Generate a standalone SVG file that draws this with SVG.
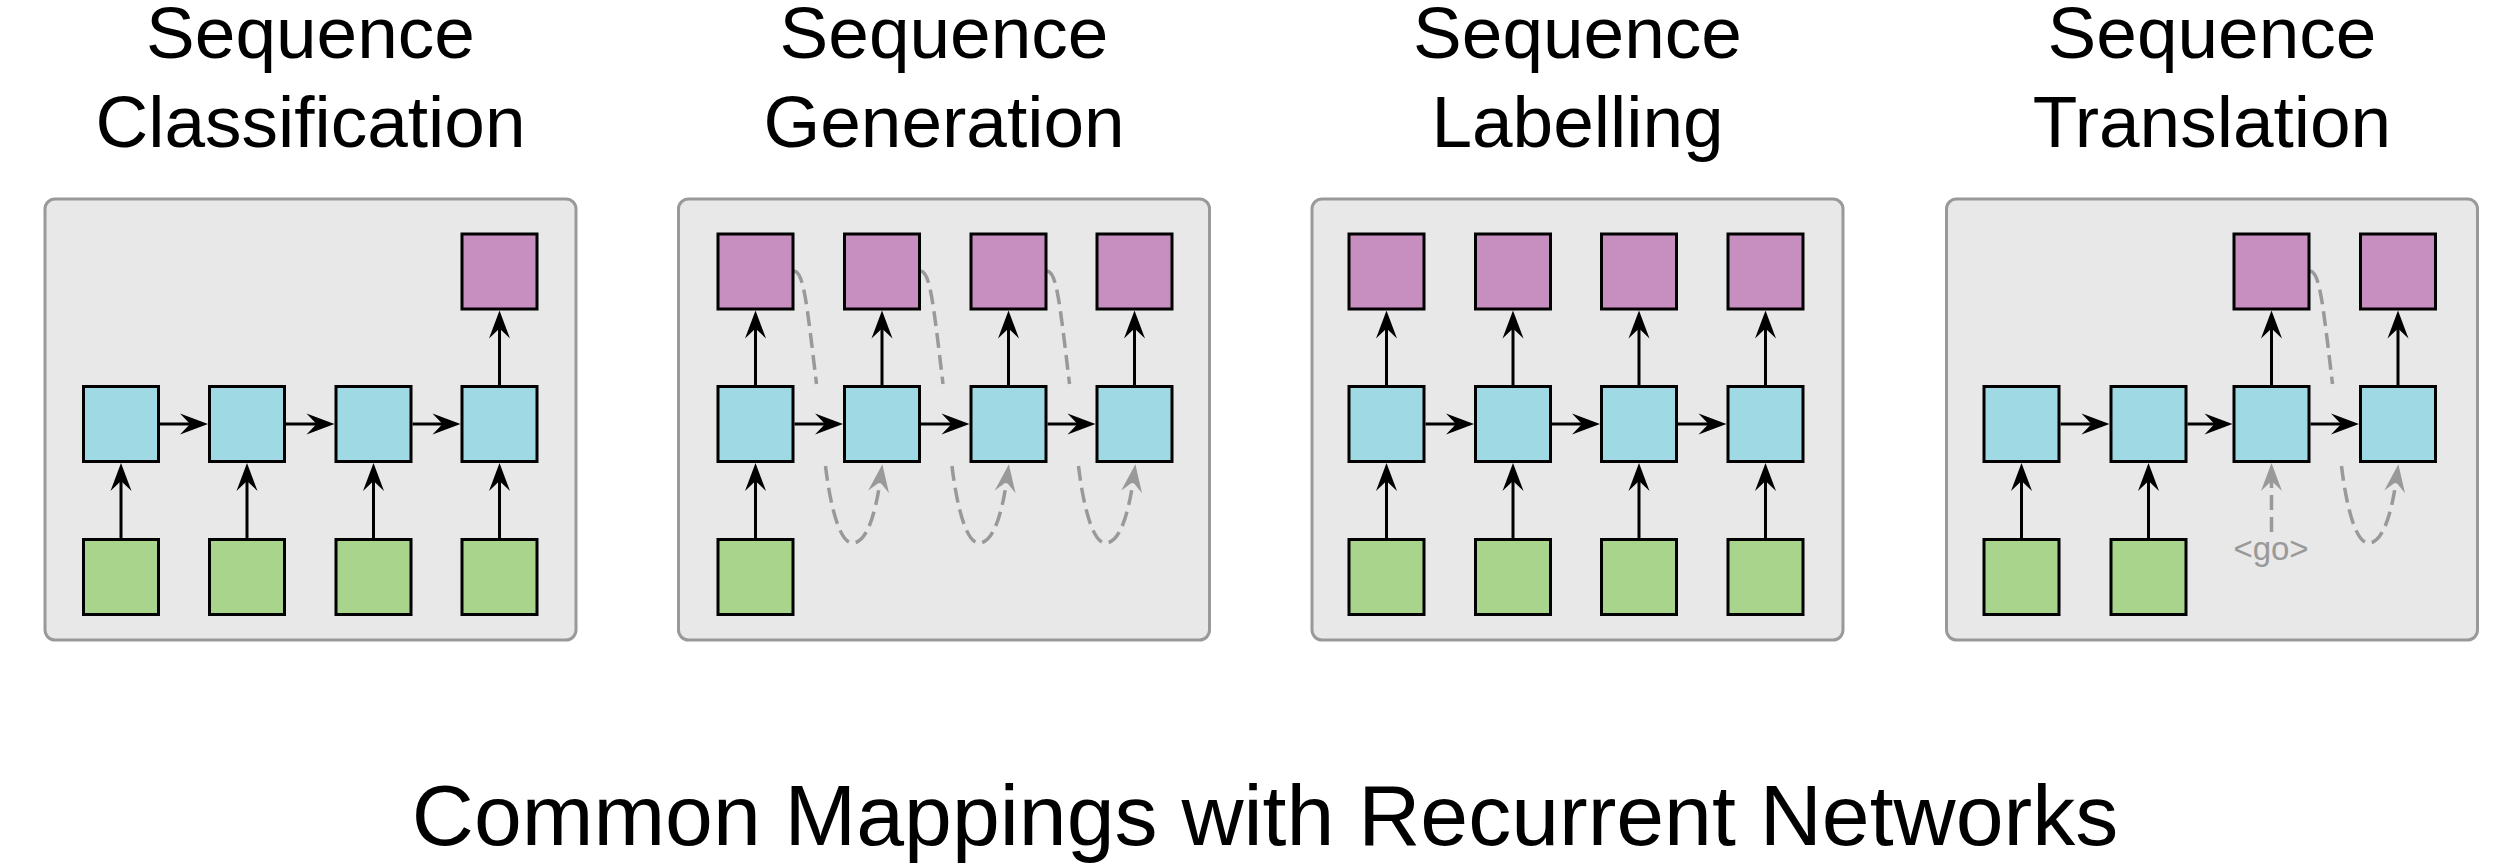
<svg xmlns="http://www.w3.org/2000/svg" width="2502" height="864" viewBox="0 0 2502 864">
<style>
.bg{fill:#ffffff}
.panel{fill:#e8e8e8;stroke:#999999;stroke-width:3}
.box{stroke:#000;stroke-width:3}
.in{fill:#a8d48b}
.hid{fill:#9fd9e3}
.out{fill:#c68fbf}
.title{font-family:"Liberation Sans",Arial,Helvetica,sans-serif;font-size:73px;fill:#000;text-anchor:middle}
.main{font-family:"Liberation Sans",Arial,Helvetica,sans-serif;font-size:86px;fill:#000;text-anchor:middle}
.go{font-family:"Liberation Sans",Arial,Helvetica,sans-serif;font-size:33px;fill:#999999;text-anchor:middle}
.conn{stroke:#000;stroke-width:3;fill:none;marker-end:url(#ah)}
.dash{stroke:#999999;stroke-width:3.5;fill:none;stroke-dasharray:15 7}
.darr{marker-end:url(#gh)}
</style>
<defs>
<marker id="ah" viewBox="-30 -12 32 24" refX="-14" refY="0" markerWidth="32" markerHeight="24" markerUnits="userSpaceOnUse" orient="auto">
<path d="M0,0 L-28,-10.5 L-18,0 L-28,10.5 Z" fill="#000"/>
</marker>
<marker id="gh" viewBox="-30 -12 32 24" refX="-14" refY="0" markerWidth="32" markerHeight="24" markerUnits="userSpaceOnUse" orient="auto">
<path d="M0,0 L-28,-10.5 L-18,0 L-28,10.5 Z" fill="#999999"/>
</marker>
</defs>
<rect class="bg" x="0" y="0" width="2502" height="864"/>

<g id="titles">
<text class="title" x="310.5" y="58">Sequence</text>
<text class="title" x="310.5" y="147">Classification</text>
<text class="title" x="944" y="58">Sequence</text>
<text class="title" x="944" y="147">Generation</text>
<text class="title" x="1577.5" y="58">Sequence</text>
<text class="title" x="1577.5" y="147">Labelling</text>
<text class="title" x="2212" y="58">Sequence</text>
<text class="title" x="2212" y="147">Translation</text>
<text class="main" x="1265" y="845">Common Mappings with Recurrent Networks</text>
</g>

<g id="panels">
<rect id="panel-classification" class="panel" x="45" y="199" width="531" height="441" rx="10"/>
<rect id="panel-generation" class="panel" x="678.5" y="199" width="531" height="441" rx="10"/>
<rect id="panel-labelling" class="panel" x="1312" y="199" width="531" height="441" rx="10"/>
<rect id="panel-translation" class="panel" x="1946.5" y="199" width="531" height="441" rx="10"/>
</g>

<g id="connectors">
<!-- Panel 1 -->
<line class="conn" x1="121" y1="538" x2="121" y2="477"/>
<line class="conn" x1="247" y1="538" x2="247" y2="477"/>
<line class="conn" x1="373.5" y1="538" x2="373.5" y2="477"/>
<line class="conn" x1="499.5" y1="538" x2="499.5" y2="477"/>
<line class="conn" x1="160" y1="424" x2="194" y2="424"/>
<line class="conn" x1="286" y1="424" x2="320.5" y2="424"/>
<line class="conn" x1="412.5" y1="424" x2="446.5" y2="424"/>
<line class="conn" x1="499.5" y1="385" x2="499.5" y2="324.5"/>
<!-- Panel 2 -->
<line class="conn" x1="755.5" y1="538" x2="755.5" y2="477"/>
<line class="conn" x1="794.5" y1="424" x2="829" y2="424"/>
<line class="conn" x1="921" y1="424" x2="955.5" y2="424"/>
<line class="conn" x1="1047.5" y1="424" x2="1081.5" y2="424"/>
<line class="conn" x1="755.5" y1="385" x2="755.5" y2="324.5"/>
<line class="conn" x1="882" y1="385" x2="882" y2="324.5"/>
<line class="conn" x1="1008.5" y1="385" x2="1008.5" y2="324.5"/>
<line class="conn" x1="1134.5" y1="385" x2="1134.5" y2="324.5"/>
<g transform="translate(794,0)">
<path class="dash" d="M0,271 C9.5,272 12.5,300 22.5,384"/>
<path class="dash darr" d="M31.5,466 C35.5,500 44.5,543 58.5,543 C72.5,543 81.5,515 86.5,478"/>
</g>
<g transform="translate(920.5,0)">
<path class="dash" d="M0,271 C9.5,272 12.5,300 22.5,384"/>
<path class="dash darr" d="M31.5,466 C35.5,500 44.5,543 58.5,543 C72.5,543 81.5,515 86.5,478"/>
</g>
<g transform="translate(1047,0)">
<path class="dash" d="M0,271 C9.5,272 12.5,300 22.5,384"/>
<path class="dash darr" d="M31.5,466 C35.5,500 44.5,543 58.5,543 C72.5,543 81.5,515 86.5,478"/>
</g>
<!-- Panel 3 -->
<line class="conn" x1="1386.5" y1="538" x2="1386.5" y2="477"/>
<line class="conn" x1="1513" y1="538" x2="1513" y2="477"/>
<line class="conn" x1="1639" y1="538" x2="1639" y2="477"/>
<line class="conn" x1="1765.5" y1="538" x2="1765.5" y2="477"/>
<line class="conn" x1="1425.5" y1="424" x2="1460" y2="424"/>
<line class="conn" x1="1552" y1="424" x2="1586" y2="424"/>
<line class="conn" x1="1678" y1="424" x2="1712.5" y2="424"/>
<line class="conn" x1="1386.5" y1="385" x2="1386.5" y2="324.5"/>
<line class="conn" x1="1513" y1="385" x2="1513" y2="324.5"/>
<line class="conn" x1="1639" y1="385" x2="1639" y2="324.5"/>
<line class="conn" x1="1765.5" y1="385" x2="1765.5" y2="324.5"/>
<!-- Panel 4 -->
<line class="conn" x1="2021.5" y1="538" x2="2021.5" y2="477"/>
<line class="conn" x1="2148.5" y1="538" x2="2148.5" y2="477"/>
<line class="conn" x1="2060.5" y1="424" x2="2095.5" y2="424"/>
<line class="conn" x1="2187.5" y1="424" x2="2218.5" y2="424"/>
<line class="conn" x1="2310.5" y1="424" x2="2345" y2="424"/>
<line class="conn" x1="2271.5" y1="385" x2="2271.5" y2="324.5"/>
<line class="conn" x1="2398" y1="385" x2="2398" y2="324.5"/>
<g transform="translate(2310,0)">
<path class="dash" d="M0,271 C9.5,272 12.5,300 22.5,384"/>
<path class="dash darr" d="M31.5,466 C35.5,500 44.5,543 58.5,543 C72.5,543 81.5,515 86.5,478"/>
</g>
<line class="dash darr" x1="2271.5" y1="532" x2="2271.5" y2="477"/>
</g>

<!-- Panel 1 nodes -->
<g id="p1-in0"><rect class="box in" x="83.5" y="539.5" width="75" height="75"/></g>
<g id="p1-in1"><rect class="box in" x="209.5" y="539.5" width="75" height="75"/></g>
<g id="p1-in2"><rect class="box in" x="336" y="539.5" width="75" height="75"/></g>
<g id="p1-in3"><rect class="box in" x="462" y="539.5" width="75" height="75"/></g>
<g id="p1-h0"><rect class="box hid" x="83.5" y="386.5" width="75" height="75"/></g>
<g id="p1-h1"><rect class="box hid" x="209.5" y="386.5" width="75" height="75"/></g>
<g id="p1-h2"><rect class="box hid" x="336" y="386.5" width="75" height="75"/></g>
<g id="p1-h3"><rect class="box hid" x="462" y="386.5" width="75" height="75"/></g>
<g id="p1-out3"><rect class="box out" x="462" y="234" width="75" height="75"/></g>

<!-- Panel 2 nodes -->
<g id="p2-in0"><rect class="box in" x="718" y="539.5" width="75" height="75"/></g>
<g id="p2-h0"><rect class="box hid" x="718" y="386.5" width="75" height="75"/></g>
<g id="p2-h1"><rect class="box hid" x="844.5" y="386.5" width="75" height="75"/></g>
<g id="p2-h2"><rect class="box hid" x="971" y="386.5" width="75" height="75"/></g>
<g id="p2-h3"><rect class="box hid" x="1097" y="386.5" width="75" height="75"/></g>
<g id="p2-out0"><rect class="box out" x="718" y="234" width="75" height="75"/></g>
<g id="p2-out1"><rect class="box out" x="844.5" y="234" width="75" height="75"/></g>
<g id="p2-out2"><rect class="box out" x="971" y="234" width="75" height="75"/></g>
<g id="p2-out3"><rect class="box out" x="1097" y="234" width="75" height="75"/></g>

<!-- Panel 3 nodes -->
<g id="p3-in0"><rect class="box in" x="1349" y="539.5" width="75" height="75"/></g>
<g id="p3-in1"><rect class="box in" x="1475.5" y="539.5" width="75" height="75"/></g>
<g id="p3-in2"><rect class="box in" x="1601.5" y="539.5" width="75" height="75"/></g>
<g id="p3-in3"><rect class="box in" x="1728" y="539.5" width="75" height="75"/></g>
<g id="p3-h0"><rect class="box hid" x="1349" y="386.5" width="75" height="75"/></g>
<g id="p3-h1"><rect class="box hid" x="1475.5" y="386.5" width="75" height="75"/></g>
<g id="p3-h2"><rect class="box hid" x="1601.5" y="386.5" width="75" height="75"/></g>
<g id="p3-h3"><rect class="box hid" x="1728" y="386.5" width="75" height="75"/></g>
<g id="p3-out0"><rect class="box out" x="1349" y="234" width="75" height="75"/></g>
<g id="p3-out1"><rect class="box out" x="1475.5" y="234" width="75" height="75"/></g>
<g id="p3-out2"><rect class="box out" x="1601.5" y="234" width="75" height="75"/></g>
<g id="p3-out3"><rect class="box out" x="1728" y="234" width="75" height="75"/></g>

<!-- Panel 4 nodes -->
<g id="p4-in0"><rect class="box in" x="1984" y="539.5" width="75" height="75"/></g>
<g id="p4-in1"><rect class="box in" x="2111" y="539.5" width="75" height="75"/></g>
<g id="p4-h0"><rect class="box hid" x="1984" y="386.5" width="75" height="75"/></g>
<g id="p4-h1"><rect class="box hid" x="2111" y="386.5" width="75" height="75"/></g>
<g id="p4-h2"><rect class="box hid" x="2234" y="386.5" width="75" height="75"/></g>
<g id="p4-h3"><rect class="box hid" x="2360.5" y="386.5" width="75" height="75"/></g>
<g id="p4-out2"><rect class="box out" x="2234" y="234" width="75" height="75"/></g>
<g id="p4-out3"><rect class="box out" x="2360.5" y="234" width="75" height="75"/></g>
<g id="p4-go"><text class="go" x="2271" y="560">&lt;go&gt;</text></g>
</svg>
